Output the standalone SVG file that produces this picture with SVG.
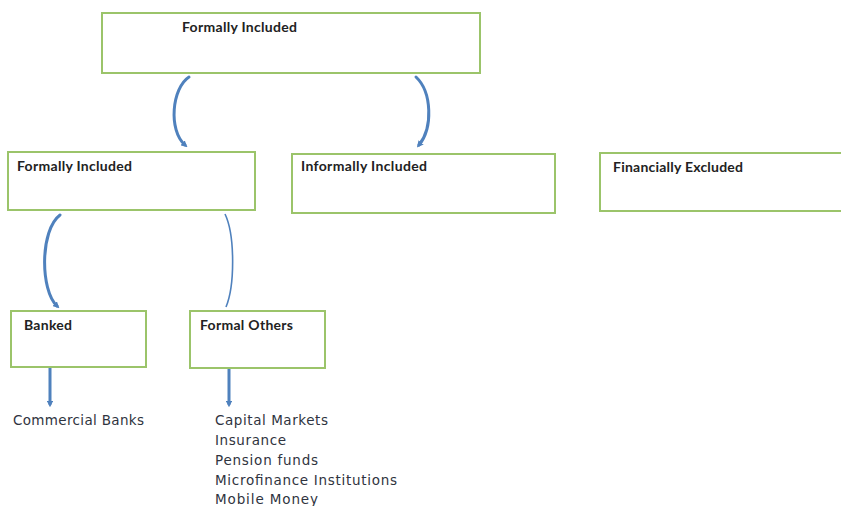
<svg xmlns="http://www.w3.org/2000/svg" width="841" height="506" viewBox="0 0 841 506">
<defs>
<style>
.box{fill:#fff;stroke:#9bc46a;stroke-width:2}
.lbl{font-family:Lato,"Liberation Sans",sans-serif;font-weight:bold;font-size:14px;fill:#222}
.item{font-family:"DejaVu Sans","Open Sans",sans-serif;font-size:13.5px;fill:#2f3440}
.arc{fill:none;stroke:#4f81bd;stroke-width:3;stroke-linecap:round}
.thin{fill:none;stroke:#4f81bd;stroke-width:1.6}
</style>
<marker id="ah" viewBox="0 0 6 6" refX="3" refY="3" markerWidth="2.2" markerHeight="2.2" orient="auto"><path d="M0,0L6,3L0,6z" fill="#4f81bd"/></marker>
</defs>
<rect width="841" height="506" fill="#fff"/>
<g id="connectors">
<path class="arc" d="M189,77 C172,88 168,130 185,145" marker-end="url(#ah)"/>
<path class="arc" d="M416,77 C432,92 433,128 419,145" stroke-width="2.4" marker-end="url(#ah)"/>
<path class="arc" d="M60,215 C40,230 40,290 57,306" marker-end="url(#ah)"/>
<path class="thin" d="M225,214 C235,235 235,285 226,307"/>
<path class="arc" d="M50,368 L50,404" marker-end="url(#ah)"/>
<path class="arc" d="M229,368 L229,404" marker-end="url(#ah)"/>
</g>
<g id="n1"><rect class="box" x="102" y="13" width="378" height="60"/><text class="lbl" x="182" y="32" textLength="115">Formally Included</text></g>
<g id="n2"><rect class="box" x="8" y="152" width="247" height="58"/><text class="lbl" x="17" y="171" textLength="115">Formally Included</text></g>
<g id="n3"><rect class="box" x="292" y="154" width="263" height="59"/><text class="lbl" x="301" y="171" textLength="126">Informally Included</text></g>
<g id="n4"><rect class="box" x="600" y="153" width="250" height="58"/><text class="lbl" x="613" y="172" textLength="130">Financially Excluded</text></g>
<g id="n5"><rect class="box" x="11" y="311" width="135" height="56"/><text class="lbl" x="24" y="330" textLength="48">Banked</text></g>
<g id="n6"><rect class="box" x="190" y="311" width="135" height="57"/><text class="lbl" x="200" y="330" textLength="93">Formal Others</text></g>
<g id="lists">
<text class="item" x="13" y="425" textLength="131">Commercial Banks</text>
<text class="item" x="215" y="425" textLength="113">Capital Markets</text>
<text class="item" x="215" y="445" textLength="71">Insurance</text>
<text class="item" x="215" y="465" textLength="103">Pension funds</text>
<text class="item" x="215" y="485" textLength="182">Microfinance Institutions</text>
<text class="item" x="215" y="504" textLength="103">Mobile Money</text>
</g>
</svg>
